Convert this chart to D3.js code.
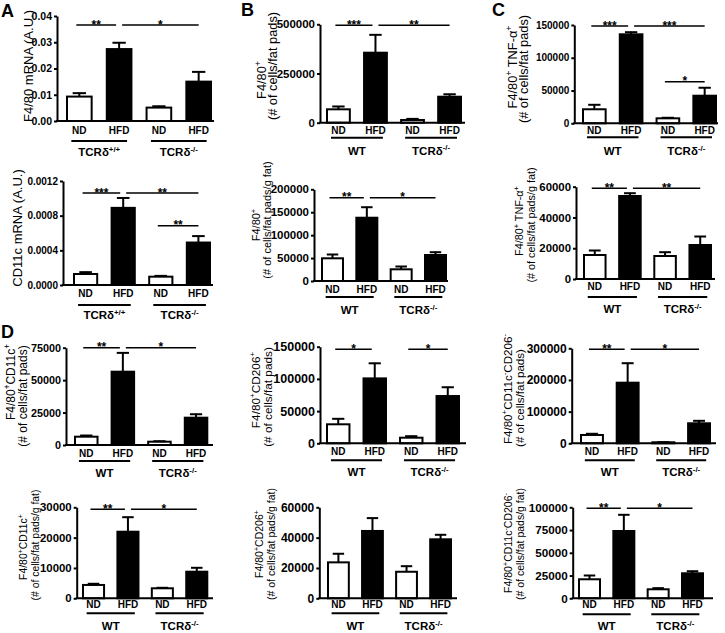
<!DOCTYPE html>
<html><head><meta charset="utf-8">
<script src="https://cdn.jsdelivr.net/npm/d3@7"></script>
<style>
body{margin:0;background:#fff}
svg{display:block}
text{font-family:Arial,"Liberation Sans",Helvetica,sans-serif;fill:#000}
</style>
</head><body>
<svg id="c" width="725" height="633"></svg>
<script>
// ---------------- DATA ----------------
const categories = ["ND", "HFD", "ND", "HFD"];
const groupsA = ["TCRδ{+/+}", "TCRδ{-/-}"];
const groupsWT = ["WT", "TCRδ{-/-}"];

// A top: F4/80 mRNA
const aTopMean = [0.0093, 0.0274, 0.0051, 0.0150];
const aTopSem  = [0.0015, 0.0026, 0.0007, 0.0039];
const aTopTicks = [0, 0.01, 0.02, 0.03, 0.04];
const aTopSig = [[0, 1, "**"], [1, 3, "*"]];
const aTopTitle = ["F4/80 mRNA  (A.U.)"];

// A bottom: CD11c mRNA
const aBotMean = [0.000127, 0.00089, 0.000096, 0.00049];
const aBotSem  = [0.000027, 0.00012, 0.000015, 0.00008];
const aBotTicks = [0, 0.0004, 0.0008, 0.0012];
const aBotSig = [[0, 1, "***"], [1, 3, "**"], [2, 3, "**"]];
const aBotTitle = ["CD11c mRNA  (A.U.)"];

// B top
const bTopMean = [68000, 355700, 13700, 132000];
const bTopSem  = [17000, 93300, 8300, 15000];
const bTopTicks = [0, 250000, 500000];
const bTopSig = [[0, 1, "***"], [1, 3, "**"]];
const bTopTitle = ["F4/80{+}", "(# of cells/fat pads)"];

// B bottom
const bBotMean = [49500, 138000, 25500, 56700];
const bBotSem  = [9400, 24000, 7200, 7200];
const bBotTicks = [0, 50000, 100000, 150000, 200000];
const bBotSig = [[0, 1, "**"], [1, 3, "*"]];
const bBotTitle = ["F4/80{+}", "(# of cells/fat pads/g fat)"];

// C top
const cTopMean = [21400, 135800, 7600, 42100];
const cTopSem  = [7600, 4000, 1600, 12900];
const cTopTicks = [0, 50000, 100000, 150000];
const cTopSig = [[0, 1, "***"], [1, 3, "***"], [2, 3, "*"]];
const cTopTitle = ["F4/80{+} TNF-α{+}", "(# of cells/fat pads)"];

// C bottom
const cBotMean = [15600, 53950, 14950, 22100];
const cBotSem  = [3250, 2150, 2800, 5850];
const cBotTicks = [0, 20000, 40000, 60000];
const cBotSig = [[0, 1, "**"], [1, 3, "**"]];
const cBotTitle = ["F4/80{+} TNF-α{+}", "(# of cells/fat pads/g fat)"];

// D row 1
const d1Mean = [6400, 56500, 2550, 21050];
const d1Sem  = [1300, 14900, 750, 3050];
const d1Ticks = [0, 25000, 50000, 75000];
const d1Sig = [[0, 1, "**"], [1, 3, "*"]];
const d1Title = ["F4/80{+}CD11c{+}", "(# of cells/fat pads)"];

const d2Mean = [29500, 100800, 8700, 73400];
const d2Sem  = [9300, 24200, 3100, 14400];
const d2Ticks = [0, 50000, 100000, 150000];
const d2Sig = [[0, 1, "*"], [2, 3, "*"]];
const d2Title = ["F4/80{+}CD206{+}", "(# of cells/fat pads)"];

const d3Mean = [26300, 191400, 3200, 63200];
const d3Sem  = [5300, 63100, 1800, 9400];
const d3Ticks = [0, 100000, 200000, 300000];
const d3Sig = [[0, 1, "**"], [1, 3, "*"]];
const d3Title = ["F4/80{+}CD11c{-}CD206{-}", "(# of cells/fat pads)"];

// D row 2
const d4Mean = [4400, 21950, 3300, 8770];
const d4Sem  = [550, 4950, 330, 1450];
const d4Ticks = [0, 10000, 20000, 30000];
const d4Sig = [[0, 1, "**"], [1, 3, "*"]];
const d4Title = ["F4/80{+}CD11c{+}", "(# of cells/fat pads/g fat)"];

const d5Mean = [23700, 44400, 17500, 38900];
const d5Sem  = [6000, 8800, 4000, 3300];
const d5Ticks = [0, 20000, 40000, 60000];
const d5Sig = [];
const d5Title = ["F4/80{+}CD206{+}", "(# of cells/fat pads/g fat)"];

const d6Mean = [20900, 73950, 9900, 27500];
const d6Sem  = [4700, 18350, 1800, 2800];
const d6Ticks = [0, 25000, 50000, 75000, 100000];
const d6Sig = [[0, 1, "**"], [1, 3, "*"]];
const d6Title = ["F4/80{+}CD11c{-}CD206{-}", "(# of cells/fat pads/g fat)"];

const panelLetters = ["A", "B", "C", "D"];

// ---------------- LAYOUT ----------------
const panels = [
  {mean:aTopMean, sem:aTopSem, ticks:aTopTicks, fmt:".2f", groups:groupsA, sig:aTopSig, title:aTopTitle,
   ax:57, b0:66, b1:212, ae:214, yt:16, y0:121, tf:10.5, tx:33, ty:[66], tfs:13, gap:12, sigY:[25,25], lab:[13,20,35]},
  {mean:aBotMean, sem:aBotSem, ticks:aBotTicks, fmt:".4f", groups:groupsA, sig:aBotSig, title:aBotTitle,
   ax:63, b0:73, b1:211, ae:213, yt:181, y0:285, tf:10, tx:22, ty:[228], tfs:13, gap:12, sigY:[193,193,225.7], lab:[12,20,34]},
  {mean:bTopMean, sem:bTopSem, ticks:bTopTicks, fmt:"d", groups:groupsWT, sig:bTopSig, title:bTopTitle,
   ax:320, b0:326, b1:462, ae:465, yt:24.3, y0:122.7, tf:11.5, tx:277, ty:[80,66], tfs:12.8, gap:11.5, sigY:[25.3,25.3], lab:[11,15,32]},
  {mean:bBotMean, sem:bBotSem, ticks:bBotTicks, fmt:"d", groups:groupsWT, sig:bBotSig, title:bBotTitle,
   ax:314, b0:321, b1:447, ae:448, yt:189.3, y0:281, tf:11.5, tx:271, ty:[225,220], tfs:11, gap:11, sigY:[197.7,197.7], lab:[12,16,33]},
  {mean:cTopMean, sem:cTopSem, ticks:cTopTicks, fmt:"d", groups:groupsWT, sig:cTopSig, title:cTopTitle,
   ax:574.3, b0:582, b1:717, ae:718, yt:25, y0:123.3, tf:10, tx:528, ty:[67,69], tfs:12.8, gap:11.5, sigY:[26,26,81.7], lab:[11,14,32]},
  {mean:cBotMean, sem:cBotSem, ticks:cBotTicks, fmt:"d", groups:groupsWT, sig:cBotSig, title:cBotTitle,
   ax:576, b0:583, b1:712, ae:715, yt:186.7, y0:279, tf:11.4, tx:535, ty:[221,225], tfs:10.8, gap:12, sigY:[188.3,188.3], lab:[11,18,34]},
  {mean:d1Mean, sem:d1Sem, ticks:d1Ticks, fmt:"d", groups:groupsWT, sig:d1Sig, title:d1Title,
   ax:66, b0:74, b1:208.3, ae:213, yt:347.7, y0:445, tf:10.8, tx:27, ty:[382,396], tfs:12, gap:12.5, sigY:[347.7,347.7], lab:[12,16,32]},
  {mean:d2Mean, sem:d2Sem, ticks:d2Ticks, fmt:"d", groups:groupsWT, sig:d2Sig, title:d2Title,
   ax:320, b0:326, b1:460, ae:466, yt:346.7, y0:443.3, tf:12.5, tx:272, ty:[390,397], tfs:11.8, gap:12.5, sigY:[349.3,349.3], lab:[12,17,33]},
  {mean:d3Mean, sem:d3Sem, ticks:d3Ticks, fmt:"d", groups:groupsWT, sig:d3Sig, title:d3Title,
   ax:571.7, b0:580, b1:711, ae:716, yt:348.3, y0:443.3, tf:12, tx:524, ty:[389,398], tfs:11.6, gap:12.5, sigY:[349.3,349.3], lab:[12,17,33]},
  {mean:d4Mean, sem:d4Sem, ticks:d4Ticks, fmt:"d", groups:groupsWT, sig:d4Sig, title:d4Title,
   ax:76.7, b0:82, b1:208.3, ae:213, yt:507.3, y0:598.3, tf:11.4, tx:39, ty:[547,545], tfs:10.4, gap:12, sigY:[509.3,509.3], lab:[10,15,32]},
  {mean:d5Mean, sem:d5Sem, ticks:d5Ticks, fmt:"d", groups:groupsWT, sig:d5Sig, title:d5Title,
   ax:319.3, b0:327, b1:452, ae:457, yt:507.3, y0:598.3, tf:12, tx:275, ty:[544,544], tfs:10.5, gap:12.5, sigY:[], lab:[10,15,32]},
  {mean:d6Mean, sem:d6Sem, ticks:d6Ticks, fmt:"d", groups:groupsWT, sig:d6Sig, title:d6Title,
   ax:572.7, b0:578, b1:704, ae:713, yt:507.3, y0:598.3, tf:11.7, tx:524, ty:[543,544], tfs:10.5, gap:12, sigY:[508.3,508.3], lab:[10,16,32]}
];
const letterPos = [[1,17],[241,16],[492,16],[1,338]];

// ---------------- DRAW ----------------
const svg = d3.select("#c");

function rich(sel, str, fs) {
  const parts = str.split(/(\{[^}]*\})/).filter(s => s.length);
  let up = false;
  const sh = fs * 0.38;
  parts.forEach(p => {
    if (p.startsWith("{")) {
      sel.append("tspan").attr("font-size", fs * 0.68).attr("dy", up ? 0 : -sh).text(p.slice(1, -1));
      up = true;
    } else {
      const t = sel.append("tspan").text(p);
      if (up) { t.attr("dy", sh); up = false; }
    }
  });
}

panels.forEach(p => {
  const g = svg.append("g");
  const x = d3.scaleBand().domain(d3.range(categories.length)).range([p.b0, p.b1]).paddingInner(0.33).paddingOuter(0);
  const y = d3.scaleLinear().domain([0, d3.max(p.ticks)]).range([p.y0, p.yt]);
  const bw = x.bandwidth();
  const cx = i => x(i) + bw / 2;
  const step = x.step();

  // bars
  g.selectAll("rect.bar").data(p.mean).join("rect")
    .attr("x", (d, i) => x(i) + 1)
    .attr("width", bw - 2)
    .attr("y", d => y(d))
    .attr("height", d => p.y0 - y(d))
    .attr("fill", (d, i) => i % 2 ? "#000" : "#fff")
    .attr("stroke", "#000").attr("stroke-width", 2);

  // error bars
  const cap = bw * 0.5;
  p.mean.forEach((m, i) => {
    const top = y(m + p.sem[i]);
    g.append("line").attr("x1", cx(i)).attr("x2", cx(i)).attr("y1", y(m)).attr("y2", top)
      .attr("stroke", "#000").attr("stroke-width", 2);
    g.append("line").attr("x1", cx(i) - cap / 2).attr("x2", cx(i) + cap / 2).attr("y1", top + 0.5).attr("y2", top + 0.5)
      .attr("stroke", "#000").attr("stroke-width", 2);
  });

  // y axis
  const fmt = d3.format(p.fmt);
  const yAxis = d3.axisLeft(y).tickValues(p.ticks).tickSize(3).tickSizeOuter(0).tickPadding(2).tickFormat(fmt);
  const ya = g.append("g").attr("transform", `translate(${p.ax},0)`).call(yAxis);
  ya.select(".domain").attr("stroke-width", 2);
  ya.selectAll(".tick line").attr("stroke-width", 2);
  ya.selectAll(".tick text").attr("font-size", p.tf).attr("font-weight", "bold")
    .attr("font-family", "Arial, 'Liberation Sans', sans-serif");

  // x axis line
  g.append("line").attr("x1", p.ax - 1).attr("x2", p.ae).attr("y1", p.y0).attr("y2", p.y0)
    .attr("stroke", "#000").attr("stroke-width", 2);

  // category labels
  categories.forEach((c, i) => {
    g.append("text").attr("x", cx(i)).attr("y", p.y0 + p.lab[0]).attr("text-anchor", "middle")
      .attr("font-size", 10).attr("font-weight", "bold").text(c);
  });

  // group lines + labels
  p.groups.forEach((lab, k) => {
    const l = cx(2 * k) - 0.2 * step, r = cx(2 * k + 1) + 0.2 * step;
    g.append("line").attr("x1", l).attr("x2", r).attr("y1", p.y0 + p.lab[1]).attr("y2", p.y0 + p.lab[1])
      .attr("stroke", "#000").attr("stroke-width", 2);
    const t = g.append("text").attr("x", (l + r) / 2).attr("y", p.y0 + p.lab[2]).attr("text-anchor", "middle")
      .attr("font-size", 11.5).attr("font-weight", "bold");
    rich(t, lab, 11.5);
  });

  // significance
  p.sig.forEach((s, k) => {
    const [i, j, stars] = s;
    const yy = p.sigY[k];
    const x1 = cx(i) + (i === 1 ? 3 : -3), x2 = cx(j) + (j === 1 ? -3 : 0);
    g.append("line").attr("x1", x1).attr("x2", x2).attr("y1", yy).attr("y2", yy)
      .attr("stroke", "#000").attr("stroke-width", 1.6);
    g.append("text").attr("x", (x1 + x2) / 2).attr("y", yy + 3.5).attr("text-anchor", "middle")
      .attr("font-size", 12).attr("font-weight", "bold").text(stars);
  });

  // y title
  const n = p.title.length;
  p.title.forEach((line, k) => {
    const cy = p.ty[k] !== undefined ? p.ty[k] : p.ty[0];
    const t = g.append("text")
      .attr("transform", `translate(${p.tx - (n - 1 - k) * p.gap},${cy}) rotate(-90)`)
      .attr("text-anchor", "middle").attr("font-size", p.tfs);
    rich(t, line, p.tfs);
  });
});

panelLetters.forEach((L, i) => {
  svg.append("text").attr("x", letterPos[i][0]).attr("y", letterPos[i][1])
    .attr("font-size", 18).attr("font-weight", "bold").text(L);
});
</script>
</body></html>
